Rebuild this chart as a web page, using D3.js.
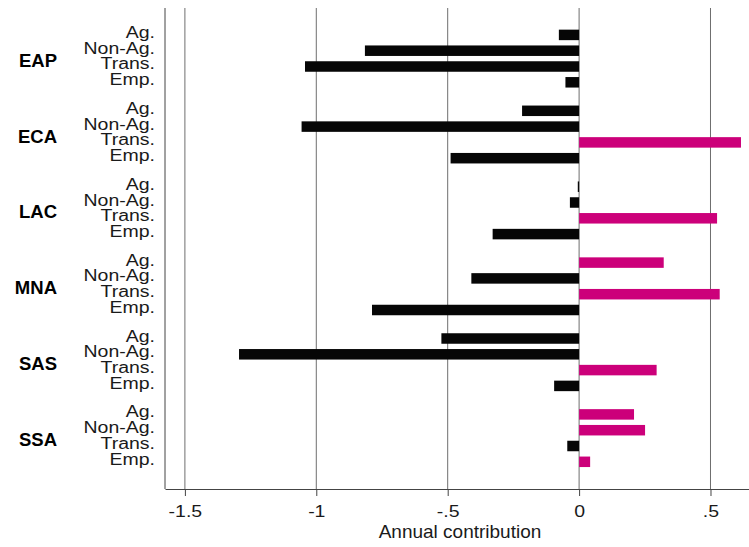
<!DOCTYPE html>
<html>
<head>
<meta charset="utf-8">
<script src="https://cdnjs.cloudflare.com/ajax/libs/d3/7.8.5/d3.min.js"></script>
<style>
    body { margin: 0; background: #fff; }
    text { font-family: 'Liberation Sans', Arial, Helvetica, sans-serif; }
</style>
</head>
<body>
<div id="chart"></div>
<script>
// Data (urutan region sama dengan array regions)
const regions = ['EAP', 'ECA', 'LAC', 'MNA', 'SAS', 'SSA'];
const components = ['Ag.', 'Non-Ag.', 'Trans.', 'Emp.'];
const agValues = [-0.077, -0.217, -0.005, 0.322, -0.524, 0.209];
const nonAgValues = [-0.815, -1.056, -0.035, -0.410, -1.294, 0.251];
const transValues = [-1.043, 0.616, 0.525, 0.535, 0.295, -0.045];
const empValues = [-0.052, -0.489, -0.329, -0.788, -0.095, 0.042];
const xTicks = [-1.5, -1, -0.5, 0, 0.5];

const width = 749, height = 547;
const plotTop = 8, plotBottom = 489, plotLeft = 165, plotRight = 749;

const seriesByComponent = {
    'Ag.': agValues,
    'Non-Ag.': nonAgValues,
    'Trans.': transValues,
    'Emp.': empValues
};

const rows = [];
regions.forEach((r, i) => {
    components.forEach(c => {
        rows.push({ region: r, comp: c, value: seriesByComponent[c][i] });
    });
});

const svg = d3.select('#chart')
    .append('svg')
    .attr('width', width)
    .attr('height', height);

const x = d3.scaleLinear()
    .domain([-1.5757, 0.6465])
    .range([plotLeft, plotRight]);

const yGroup = d3.scaleBand()
    .domain(regions)
    .range([20.65, 476.05]);

const yInner = d3.scaleBand()
    .domain(components)
    .range([0, yGroup.bandwidth()])
    .paddingInner(0.3354)
    .paddingOuter(0.5696);

// Grid vertikal
svg.append('g')
    .selectAll('line')
    .data(xTicks)
    .enter()
    .append('line')
    .attr('x1', d => x(d))
    .attr('x2', d => x(d))
    .attr('y1', plotTop)
    .attr('y2', plotBottom)
    .attr('stroke', '#6e6e6e')
    .attr('stroke-width', 1);

// Bars
svg.append('g')
    .selectAll('rect')
    .data(rows)
    .enter()
    .append('rect')
    .attr('x', d => x(Math.min(0, d.value)))
    .attr('width', d => Math.abs(x(d.value) - x(0)))
    .attr('y', d => yGroup(d.region) + yInner(d.comp))
    .attr('height', yInner.bandwidth())
    .attr('fill', d => d.value >= 0 ? '#cc007a' : '#060606');

// Sumbu kiri
svg.append('line')
    .attr('x1', plotLeft)
    .attr('x2', plotLeft)
    .attr('y1', plotTop)
    .attr('y2', plotBottom)
    .attr('stroke', '#444')
    .attr('stroke-width', 1);

// Sumbu X
const xAxis = svg.append('g')
    .attr('transform', `translate(0,${plotBottom})`)
    .call(d3.axisBottom(x)
        .tickValues(xTicks)
        .tickSize(7)
        .tickSizeOuter(0)
        .tickFormat(d => String(d).replace('0.', '.')));

xAxis.select('.domain').attr('stroke', '#444');
xAxis.selectAll('.tick line').attr('stroke', '#444');
xAxis.selectAll('.tick text')
    .attr('y', null)
    .attr('dy', null)
    .attr('transform', 'translate(0,28) scale(1,0.8)')
    .attr('fill', '#1a1a1a')
    .style('font-size', '19.5px');

svg.append('text')
    .attr('x', 460)
    .attr('y', 538)
    .attr('text-anchor', 'middle')
    .attr('fill', '#1a1a1a')
    .style('font-size', '19px')
    .text('Annual contribution');

// Label komponen (kanan, dekat sumbu)
svg.append('g')
    .selectAll('text')
    .data(rows)
    .enter()
    .append('text')
    .attr('transform', d => {
        const cy = yGroup(d.region) + yInner(d.comp) + yInner.bandwidth() / 2;
        return `translate(155,${cy + 3}) scale(1,0.8)`;
    })
    .attr('text-anchor', 'end')
    .attr('fill', '#1a1a1a')
    .style('font-size', '19.5px')
    .text(d => d.comp);

// Label region (bold)
svg.append('g')
    .selectAll('text')
    .data(regions)
    .enter()
    .append('text')
    .attr('x', 57)
    .attr('y', d => yGroup(d) + yGroup.bandwidth() / 2 + 8)
    .attr('text-anchor', 'end')
    .attr('fill', '#000')
    .style('font-size', '18.5px')
    .style('font-weight', 'bold')
    .text(d => d);
</script>
</body>
</html>
